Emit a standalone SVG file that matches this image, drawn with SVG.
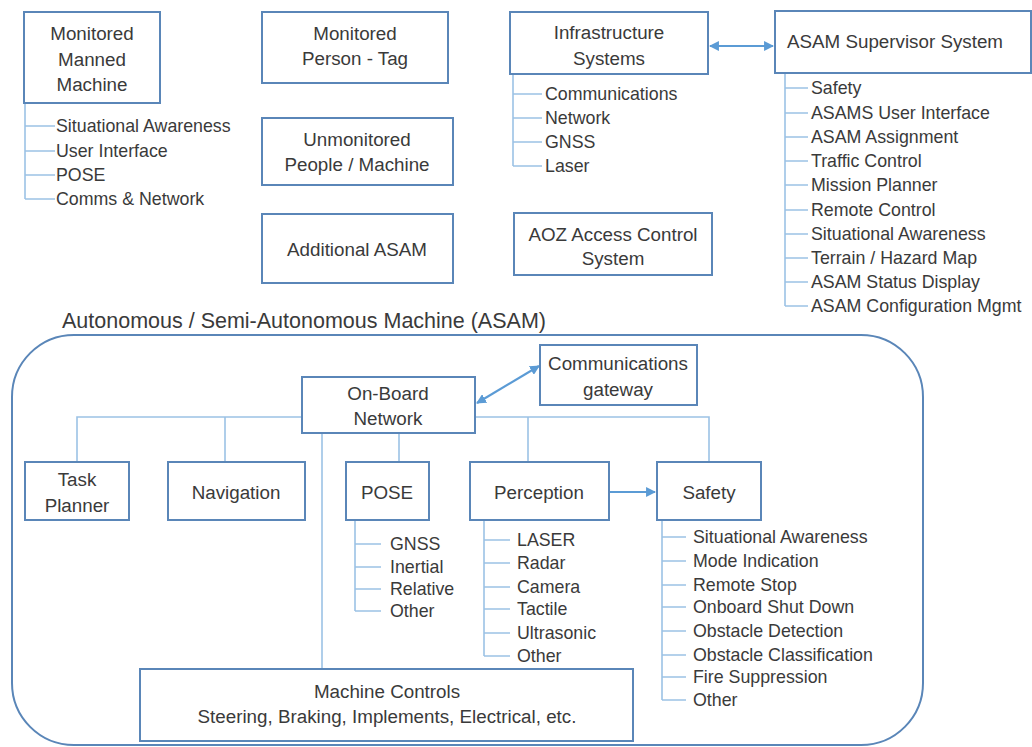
<svg xmlns="http://www.w3.org/2000/svg" width="1032" height="747" viewBox="0 0 1032 747">
<defs>
<style>
.box{fill:#fff;stroke:#5a86b8;stroke-width:2}
.frame{fill:none;stroke:#5a86b8;stroke-width:2}
.tree{fill:none;stroke:#9cc2e5;stroke-width:1.6}
.arr{fill:none;stroke:#5b9bd5;stroke-width:2.2}
text{font-family:"Liberation Sans",Arial,sans-serif;font-size:17.8px;fill:#3a3a3a;dominant-baseline:central}
.c{text-anchor:middle;font-size:18.8px}
.t{font-size:21.5px}
</style>
<marker id="ah" viewBox="0 0 10 10" refX="9" refY="5" markerWidth="4.5" markerHeight="4.5" orient="auto-start-reverse">
<path d="M0,0 L10,5 L0,10 z" fill="#5b9bd5"/>
</marker>
</defs>
<rect width="1032" height="747" fill="#fff"/>

<g id="asam-frame">
<rect class="frame" x="12" y="335" width="911" height="410" rx="62"/>
<text class="t" x="62" y="321">Autonomous / Semi-Autonomous Machine (ASAM)</text>
</g>

<g id="connectors">
<path class="tree" d="M25,103 V199 M25,126 H55 M25,151 H55 M25,175 H55 M25,199 H55"/>
<path class="tree" d="M513,74 V166 M513,94 H542 M513,118 H542 M513,142 H542 M513,166 H542"/>
<path class="tree" d="M785,73 V306 M785,88 H808 M785,113 H808 M785,137 H808 M785,161 H808 M785,185 H808 M785,210 H808 M785,234 H808 M785,258 H808 M785,282 H808 M785,306 H808"/>
<path class="tree" d="M302,417 H77 V462 M225,417 V462 M475,417 H709 V462 M528,417 V462 M399,433 V462 M322,433 V669"/>
<path class="tree" d="M355,520 V611 M355,544 H381 M355,567 H381 M355,589 H381 M355,611 H381"/>
<path class="tree" d="M484,520 V656 M484,540 H510 M484,563 H510 M484,587 H510 M484,609 H510 M484,633 H510 M484,656 H510"/>
<path class="tree" d="M662,520 V700 M662,537 H686 M662,561 H686 M662,585 H686 M662,607 H686 M662,631 H686 M662,655 H686 M662,677 H686 M662,700 H686"/>
<line class="arr" x1="710" y1="46" x2="773" y2="46" marker-start="url(#ah)" marker-end="url(#ah)"/>
<line class="arr" x1="477" y1="403" x2="539" y2="366" marker-start="url(#ah)" marker-end="url(#ah)"/>
<line class="arr" x1="610" y1="492" x2="655" y2="492" marker-end="url(#ah)"/>
</g>

<g id="monitored-manned-machine">
<rect class="box" x="24" y="12" width="136" height="91"/>
<text class="c" x="92" y="33">Monitored</text>
<text class="c" x="92" y="59">Manned</text>
<text class="c" x="92" y="84">Machine</text>
<text x="56" y="126">Situational Awareness</text>
<text x="56" y="151">User Interface</text>
<text x="56" y="175">POSE</text>
<text x="56" y="199">Comms &amp; Network</text>
</g>

<g id="monitored-person-tag">
<rect class="box" x="262" y="12" width="186" height="71"/>
<text class="c" x="355" y="33">Monitored</text>
<text class="c" x="355" y="58">Person - Tag</text>
</g>

<g id="unmonitored">
<rect class="box" x="262" y="118" width="191" height="67"/>
<text class="c" x="357" y="139">Unmonitored</text>
<text class="c" x="357" y="164">People / Machine</text>
</g>

<g id="additional-asam">
<rect class="box" x="262" y="214" width="191" height="69"/>
<text class="c" x="357" y="249">Additional ASAM</text>
</g>

<g id="infrastructure">
<rect class="box" x="510" y="12" width="198" height="62"/>
<text class="c" x="609" y="32">Infrastructure</text>
<text class="c" x="609" y="58">Systems</text>
<text x="545" y="94">Communications</text>
<text x="545" y="118">Network</text>
<text x="545" y="142">GNSS</text>
<text x="545" y="166">Laser</text>
</g>

<g id="aoz">
<rect class="box" x="514" y="213" width="198" height="62"/>
<text class="c" x="613" y="234">AOZ Access Control</text>
<text class="c" x="613" y="258">System</text>
</g>

<g id="supervisor">
<rect class="box" x="775" y="11" width="256" height="62"/>
<text class="c" x="895" y="41">ASAM Supervisor System</text>
<text x="811" y="88">Safety</text>
<text x="811" y="113">ASAMS User Interface</text>
<text x="811" y="137">ASAM Assignment</text>
<text x="811" y="161">Traffic Control</text>
<text x="811" y="185">Mission Planner</text>
<text x="811" y="210">Remote Control</text>
<text x="811" y="234">Situational Awareness</text>
<text x="811" y="258">Terrain / Hazard Map</text>
<text x="811" y="282">ASAM Status Display</text>
<text x="811" y="306">ASAM Configuration Mgmt</text>
</g>

<g id="on-board-network">
<rect class="box" x="302" y="377" width="173" height="56"/>
<text class="c" x="388" y="393">On-Board</text>
<text class="c" x="388" y="418">Network</text>
</g>

<g id="comms-gateway">
<rect class="box" x="540" y="345" width="157" height="60"/>
<text class="c" x="618" y="363">Communications</text>
<text class="c" x="618" y="389">gateway</text>
</g>

<g id="task-planner">
<rect class="box" x="25" y="462" width="104" height="58"/>
<text class="c" x="77" y="479">Task</text>
<text class="c" x="77" y="505">Planner</text>
</g>

<g id="navigation">
<rect class="box" x="168" y="462" width="137" height="58"/>
<text class="c" x="236" y="492">Navigation</text>
</g>

<g id="pose">
<rect class="box" x="346" y="462" width="83" height="58"/>
<text class="c" x="387" y="492">POSE</text>
<text x="390" y="544">GNSS</text>
<text x="390" y="567">Inertial</text>
<text x="390" y="589">Relative</text>
<text x="390" y="611">Other</text>
</g>

<g id="perception">
<rect class="box" x="470" y="462" width="139" height="58"/>
<text class="c" x="539" y="492">Perception</text>
<text x="517" y="540">LASER</text>
<text x="517" y="563">Radar</text>
<text x="517" y="587">Camera</text>
<text x="517" y="609">Tactile</text>
<text x="517" y="633">Ultrasonic</text>
<text x="517" y="656">Other</text>
</g>

<g id="safety">
<rect class="box" x="657" y="462" width="104" height="58"/>
<text class="c" x="709" y="492">Safety</text>
<text x="693" y="537">Situational Awareness</text>
<text x="693" y="561">Mode Indication</text>
<text x="693" y="585">Remote Stop</text>
<text x="693" y="607">Onboard Shut Down</text>
<text x="693" y="631">Obstacle Detection</text>
<text x="693" y="655">Obstacle Classification</text>
<text x="693" y="677">Fire Suppression</text>
<text x="693" y="700">Other</text>
</g>

<g id="machine-controls">
<rect class="box" x="140" y="669" width="493" height="72"/>
<text class="c" x="387" y="691">Machine Controls</text>
<text class="c" x="387" y="716">Steering, Braking, Implements, Electrical, etc.</text>
</g>
</svg>
